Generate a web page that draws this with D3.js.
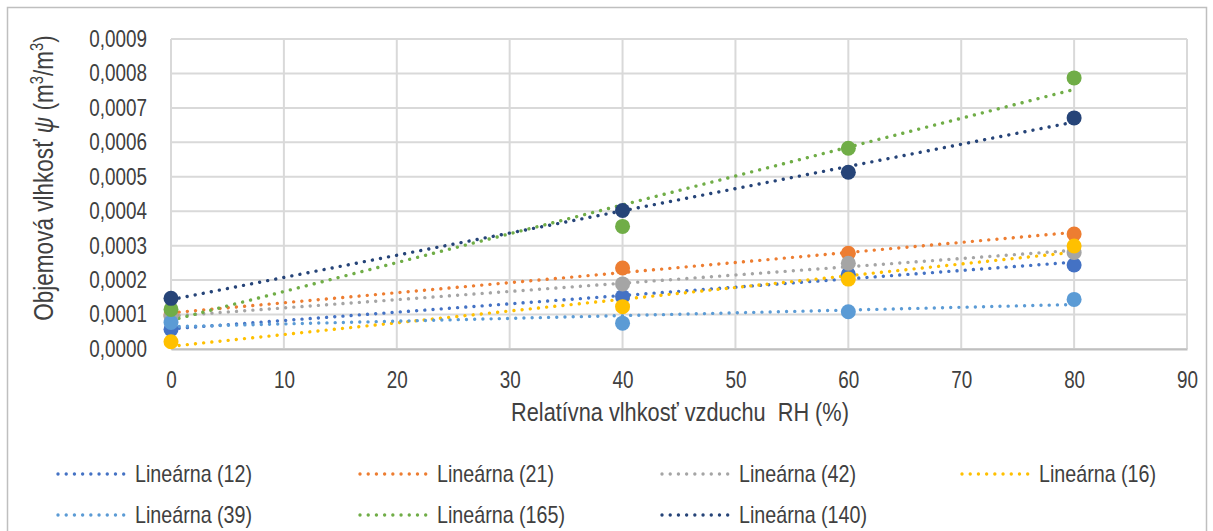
<!DOCTYPE html>
<html>
<head>
<meta charset="utf-8">
<script src="https://cdn.jsdelivr.net/npm/d3@7"></script>
<style>
  html, body { margin: 0; padding: 0; background: #fff; }
  svg text { font-family: "Liberation Sans Narrow", "Arial Narrow", "Liberation Sans", Arial, sans-serif; fill: #404040; }
</style>
</head>
<body>
<svg id="chart" width="1213" height="531"></svg>
<script>
// Relative humidity levels (%)
const rh = [0, 40, 60, 80];

// Volumetric moisture of each sample (m3/m3)
const s12  = [0.000057, 0.000152, 0.000217, 0.000244];
const s21  = [0.000099, 0.000235, 0.000278, 0.000334];
const s42  = [0.000094, 0.000189, 0.000249, 0.000280];
const s16  = [0.000021, 0.000123, 0.000203, 0.000299];
const s39  = [0.000077, 0.000075, 0.000108, 0.000144];
const s165 = [0.000115, 0.000356, 0.000583, 0.000787];
const s140 = [0.000147, 0.000402, 0.000513, 0.000671];

const seriesNames = ["12", "21", "42", "16", "39", "165", "140"];
const seriesValues = [s12, s21, s42, s16, s39, s165, s140];
const seriesColors = ["#4472C4", "#ED7D31", "#A5A5A5", "#FFC000", "#5B9BD5", "#70AD47", "#264478"];

const xTicks = [0, 10, 20, 30, 40, 50, 60, 70, 80, 90];
const yTicks = [0, 0.0001, 0.0002, 0.0003, 0.0004, 0.0005, 0.0006, 0.0007, 0.0008, 0.0009];

const legendPrefix = "Lineárna";
const xTitle = "Relatívna vlhkosť vzduchu  RH (%)";

const series = seriesNames.map((name, i) => ({
  name, color: seriesColors[i],
  points: rh.map((x, j) => ({ x, y: seriesValues[i][j] }))
}));

// Least-squares fit for each series' trendline
function linearFit(pts) {
  const mx = d3.mean(pts, d => d.x), my = d3.mean(pts, d => d.y);
  const sxy = d3.sum(pts, d => (d.x - mx) * (d.y - my));
  const sxx = d3.sum(pts, d => (d.x - mx) ** 2);
  const slope = sxy / sxx;
  return { slope, intercept: my - slope * mx };
}

// Squeeze text horizontally to get a narrow typeface look
const NARROW = 0.82;
function condense(sel) {
  sel.each(function () {
    const w = this.getComputedTextLength();
    d3.select(this).attr("textLength", w * NARROW).attr("lengthAdjust", "spacingAndGlyphs");
  });
}

const svg = d3.select("#chart");
const W = 1213, H = 531;
const plot = { left: 171, right: 1187, top: 39, bottom: 349 };

// Chart frame
svg.append("rect").attr("x", 0).attr("y", 0).attr("width", W).attr("height", H).attr("fill", "#fff");
svg.append("rect").attr("x", 7.5).attr("y", 7.5).attr("width", 1199).attr("height", 540)
  .attr("fill", "none").attr("stroke", "#BFBFBF").attr("stroke-width", 1.5);

const x = d3.scaleLinear().domain([0, 90]).range([plot.left, plot.right]);
const y = d3.scaleLinear().domain([0, 0.0009]).range([plot.bottom, plot.top]);

const locale = d3.formatLocale({ decimal: ",", thousands: " ", grouping: [3], currency: ["", " €"] });
const fmtY = locale.format(".4f");

// Gridlines
const grid = svg.append("g");
grid.selectAll("line.h").data(yTicks).join("line")
  .attr("x1", plot.left).attr("x2", plot.right)
  .attr("y1", d => y(d)).attr("y2", d => y(d))
  .attr("stroke", "#D9D9D9").attr("stroke-width", 2);
grid.selectAll("line.v").data(xTicks).join("line")
  .attr("y1", plot.top).attr("y2", plot.bottom)
  .attr("x1", d => x(d)).attr("x2", d => x(d))
  .attr("stroke", "#D9D9D9").attr("stroke-width", 2);

// Axes
const xAxis = svg.append("g").attr("transform", `translate(0,${plot.bottom})`)
  .call(d3.axisBottom(x).tickValues(xTicks).tickSize(0).tickPadding(23).tickFormat(d3.format("d")));
xAxis.select(".domain").attr("stroke", "#BFBFBF").attr("stroke-width", 2);
xAxis.selectAll("text").style("font-size", "23px").attr("fill", "#404040").call(condense);

const yAxis = svg.append("g").attr("transform", `translate(${plot.left},0)`)
  .call(d3.axisLeft(y).tickValues(yTicks).tickSize(0).tickPadding(24).tickFormat(fmtY));
yAxis.select(".domain").remove();
yAxis.selectAll("text").style("font-size", "23px").attr("fill", "#404040").call(condense);

// Axis titles
svg.append("text")
  .attr("x", 680).attr("y", 421)
  .attr("text-anchor", "middle").style("font-size", "26.5px").style("white-space", "pre")
  .text(xTitle).call(condense);

const yt = svg.append("text")
  .attr("transform", `translate(53,178) rotate(-90)`)
  .attr("text-anchor", "middle").style("font-size", "27.5px");
yt.append("tspan").text("Objemová vlhkosť ");
yt.append("tspan").attr("font-style", "italic").text("ψ");
yt.append("tspan").text(" (m");
yt.append("tspan").attr("baseline-shift", "super").style("font-size", "18px").text("3");
yt.append("tspan").text("/m");
yt.append("tspan").attr("baseline-shift", "super").style("font-size", "18px").text("3");
yt.append("tspan").text(")");
yt.call(condense);

// Trendlines
const trendG = svg.append("g");
series.forEach(s => {
  const f = linearFit(s.points);
  const x0 = d3.min(rh), x1 = d3.max(rh);
  trendG.append("line")
    .attr("x1", x(x0)).attr("y1", y(f.intercept + f.slope * x0))
    .attr("x2", x(x1)).attr("y2", y(f.intercept + f.slope * x1))
    .attr("stroke", s.color).attr("stroke-width", 3.4)
    .attr("stroke-linecap", "round").attr("stroke-dasharray", "0.01 8.2");
});

// Markers
const markG = svg.append("g");
series.forEach(s => {
  markG.selectAll(null).data(s.points).join("circle")
    .attr("cx", d => x(d.x)).attr("cy", d => y(d.y)).attr("r", 7.5)
    .attr("fill", s.color);
});

// Legend (trendlines only)
const legendCols = [58, 360, 662, 962];
const legendRows = [474, 515];
const lg = svg.append("g");
series.forEach((s, i) => {
  const cx = legendCols[i % 4], cy = legendRows[Math.floor(i / 4)];
  lg.append("line").attr("x1", cx).attr("x2", cx + 70).attr("y1", cy).attr("y2", cy)
    .attr("stroke", s.color).attr("stroke-width", 3.4)
    .attr("stroke-linecap", "round").attr("stroke-dasharray", "0.01 8.2");
  lg.append("text").attr("x", cx + 77).attr("y", cy).attr("dy", "0.35em")
    .style("font-size", "24px").text(`${legendPrefix} (${s.name})`).call(condense);
});
</script>
</body>
</html>
